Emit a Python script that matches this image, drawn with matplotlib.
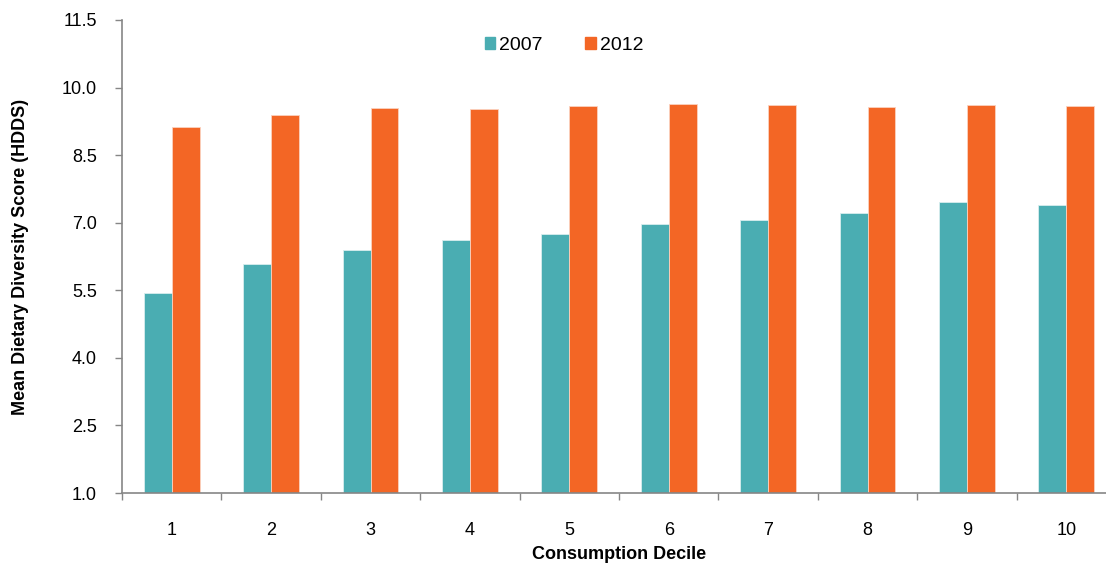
import matplotlib

matplotlib.use("Agg")
import matplotlib.pyplot as plt  # noqa: E402
import numpy as np  # noqa: E402
from matplotlib.patches import Patch  # noqa: E402

# ── data ─────────────────────────────────────────────────────────────────────
deciles = ["1", "2", "3", "4", "5", "6", "7", "8", "9", "10"]
hdds_2007 = [5.43, 6.09, 6.40, 6.61, 6.75, 6.98, 7.06, 7.21, 7.46, 7.40]
hdds_2012 = [9.12, 9.40, 9.55, 9.53, 9.59, 9.64, 9.61, 9.57, 9.61, 9.59]
series = ["2007", "2012"]
yticks = [1.0, 2.5, 4.0, 5.5, 7.0, 8.5, 10.0, 11.5]

teal = "#4AADB2"
orange = "#F36625"
spine = "#868686"

plt.rcParams["font.family"] = ["Liberation Sans", "DejaVu Sans"]

fig = plt.figure(figsize=(11.06, 5.65), dpi=100)
ax = fig.add_axes([122 / 1106, 72 / 565, 994 / 1106, 473 / 565])

x = np.arange(len(deciles))
w = 0.28
ax.bar(x - w / 2, hdds_2007, w, bottom=0, color=teal, edgecolor="#d8eeee", linewidth=0.6, zorder=2)
ax.bar(x + w / 2, hdds_2012, w, bottom=0, color=orange, edgecolor="#fbd2bf", linewidth=0.6, zorder=2)

ax.set_xlim(-0.5, len(deciles) - 0.5)
ax.set_ylim(1.0, 11.5)
ax.set_yticks(yticks)
ax.set_yticklabels([f"{v:.1f}" for v in yticks], fontsize=13)
ax.set_xticks(x)
ax.set_xticklabels(deciles, fontsize=13)
ax.tick_params(axis="x", length=0, pad=21)
ax.set_xticks(np.arange(len(deciles) + 1) - 0.5, minor=True)
ax.tick_params(axis="x", which="minor", length=5, color=spine, width=1)
ax.tick_params(axis="y", length=5, color=spine, width=1, pad=13)

for side in ["top", "right"]:
    ax.spines[side].set_visible(False)
for side in ["left", "bottom"]:
    ax.spines[side].set_color(spine)
    ax.spines[side].set_linewidth(1.2)

ax.set_ylabel("Mean Dietary Diversity Score (HDDS)", fontsize=13, fontweight="bold")
ax.yaxis.set_label_coords(-0.094, 0.5)
ax.set_xlabel("Consumption Decile", fontsize=13, fontweight="bold")
ax.xaxis.set_label_coords(0.5, -0.113)

handles = [Patch(color=teal), Patch(color=orange)]
fig.legend(handles, series, loc="center", bbox_to_anchor=(0.510, 0.920), ncol=2,
           frameon=False, fontsize=14, handlelength=0.55, handleheight=0.55,
           handletextpad=0.2, columnspacing=2.2)

fig.savefig("out.png", dpi=100)
plt.close(fig)
